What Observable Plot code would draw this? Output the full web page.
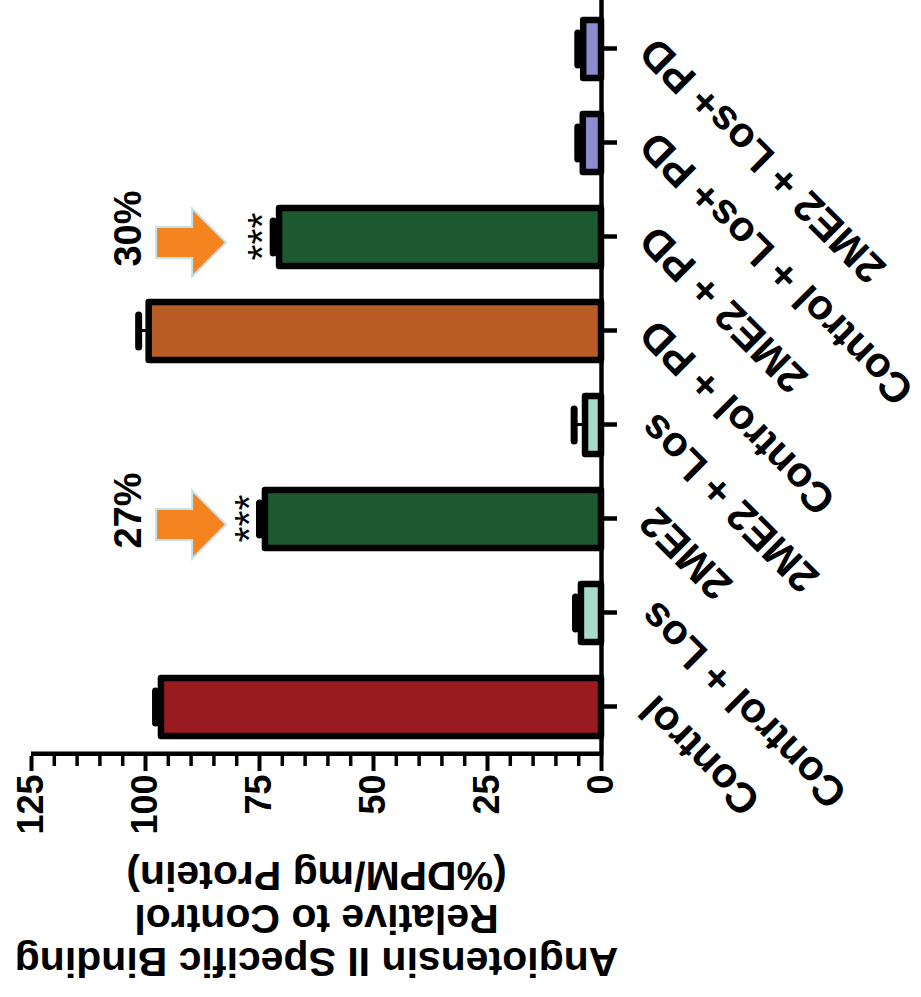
<!DOCTYPE html>
<html><head><meta charset="utf-8">
<script src="https://cdn.jsdelivr.net/npm/d3@7"></script>
<script src="https://cdn.jsdelivr.net/npm/@observablehq/plot@0.6"></script>
<style>
html,body{margin:0;padding:0;background:#fff;}
#wrap{position:relative;width:921px;height:997px;overflow:hidden;background:#fff;}
#rot{position:absolute;left:0;top:0;width:997px;height:921px;transform-origin:0 0;transform:translate(0px,997px) rotate(-90deg);}
#rot svg{max-width:none !important;display:block;}
</style></head><body>
<div id="wrap"><div id="rot"></div></div>
<script>
// ---- data ----
const categories = ["Control","Control + Los","2ME2","2ME2 + Los","Control + PD","2ME2 + PD","Control + Los+ PD","2ME2 + Los+ PD"];
const means = [96.5, 4.4, 73.7, 3.5, 99.2, 70.6, 4.0, 3.9];
const errorTops = [97.8, 5.7, 75.0, 6.0, 101.5, 72.0, 5.2, 5.2];
const barColors = ["#9A1B1F","#A8DCC9","#1D592F","#A8DCC9","#B95D27","#1D592F","#8C8DCE","#8C8DCE"];
const majorTicks = [0,25,50,75,100,125];
const minorTicks = [5,10,15,20,30,35,40,45,55,60,65,70,80,85,90,95,105,110,115,120];
const annotCategories = ["2ME2","2ME2 + PD"];
const annotPercents = ["27%","30%"];
const annotStars = ["***","***"];
const yTitle = ["Angiotensin II Specific Binding","Relative to Control","(%DPM/mg Protein)"];

// ---- layout (chart drawn upright, then turned a quarter-turn counter-clockwise) ----
const W = 997, H = 921, mL = 241, mR = 0, mT = 31, mB = 320;
const plotW = W - mL - mR, plotH = H - mT - mB;
const step = plotW / categories.length;

const bars = categories.map((c, i) => ({cat: c, value: means[i], err: errorTops[i]}));
const annots = annotCategories.map((c, i) => ({cat: c, pct: annotPercents[i], stars: annotStars[i], err: errorTops[categories.indexOf(c)]}));

const arrowSymbol = {
  draw(context, size) {
    const r = Math.sqrt(size / Math.PI), k = r / 34;
    const pts = [[-15,-34],[15,-34],[15,1],[33,1],[0,34],[-33,1],[-15,1]];
    context.moveTo(pts[0][0]*k, pts[0][1]*k);
    for (let i = 1; i < pts.length; i++) context.lineTo(pts[i][0]*k, pts[i][1]*k);
    context.closePath();
  }
};

const chart = Plot.plot({
  width: W, height: H, marginLeft: mL, marginRight: mR, marginTop: mT, marginBottom: mB,
  x: {domain: categories, paddingInner: 0.38, paddingOuter: 0.19, axis: null},
  y: {domain: [0, 125], axis: null},
  color: {domain: categories, range: barColors},
  style: {fontFamily: "'Liberation Sans', Arial, Helvetica, sans-serif", background: "#fff", color: "#000", overflow: "visible"},
  marks: [
    Plot.ruleY(minorTicks, {y: d => d, insetRight: plotW - 10, dx: -10, strokeWidth: 3.5, stroke: "#000"}),
    Plot.ruleY(majorTicks, {y: d => d, insetRight: plotW - 15, dx: -15, strokeWidth: 4, stroke: "#000"}),
    Plot.ruleX([categories[0]], {x: d => d, dx: -step / 2, strokeWidth: 4.5, stroke: "#000"}),
    Plot.text(majorTicks, {y: d => d, text: d => String(d), frameAnchor: "left", textAnchor: "end", lineAnchor: "middle", dx: -19, fontSize: 36, fontWeight: "bold"}),
    Plot.ruleX(categories, {x: d => d, insetTop: plotH - 16, dy: 16, strokeWidth: 4.5, stroke: "#000"}),
    Plot.text(categories, {x: d => d, frameAnchor: "bottom", text: d => d, rotate: -45, textAnchor: "end", lineAnchor: "middle", dx: 4, dy: 46, fontSize: 42, fontWeight: "bold"}),
    Plot.text([yTitle.join("\n")], {frameAnchor: "left", text: d => d, rotate: -90, textAnchor: "middle", lineAnchor: "middle", lineHeight: 1.05, dx: -163, fontSize: 41, fontWeight: "bold"}),
    Plot.ruleX(bars, {x: "cat", y1: "value", y2: "err", strokeWidth: 3, stroke: "#000"}),
    Plot.tickY(bars, {x: "cat", y: "err", strokeWidth: 7, strokeLinecap: "round", insetLeft: 13, insetRight: 13, stroke: "#000"}),
    Plot.barY(bars, {x: "cat", y: "value", fill: "cat", stroke: "#000", strokeWidth: 6.5, strokeLinejoin: "round"}),
    Plot.ruleY([0], {strokeWidth: 4.5, stroke: "#000"}),
    Plot.dot(annots, {x: "cat", y: () => 90, r: 35, symbol: arrowSymbol, fill: "#F5831F", stroke: "#BFE4EF", strokeWidth: 2, dx: -6, ariaLabel: "arrows"}),
    Plot.text(annots, {x: "cat", y: () => 90, text: "pct", lineAnchor: "middle", dy: -62, dx: 8, fontSize: 38, fontWeight: "bold"}),
    Plot.text(annots, {x: "cat", y: "err", text: "stars", lineAnchor: "bottom", dy: 3, fontSize: 41})
  ]
});

const ns = "http://www.w3.org/2000/svg";
const defs = document.createElementNS(ns, "defs");
defs.innerHTML = '<filter id="arrowShadow" x="-40%" y="-40%" width="180%" height="180%"><feDropShadow dx="-3" dy="-2" stdDeviation="2.5" flood-color="#000" flood-opacity="0.4"/></filter>';
chart.insertBefore(defs, chart.firstChild);
const ag = chart.querySelector('g[aria-label="arrows"]');
if (ag) ag.setAttribute("filter", "url(#arrowShadow)");
document.getElementById("rot").appendChild(chart);
</script>
</body></html>
